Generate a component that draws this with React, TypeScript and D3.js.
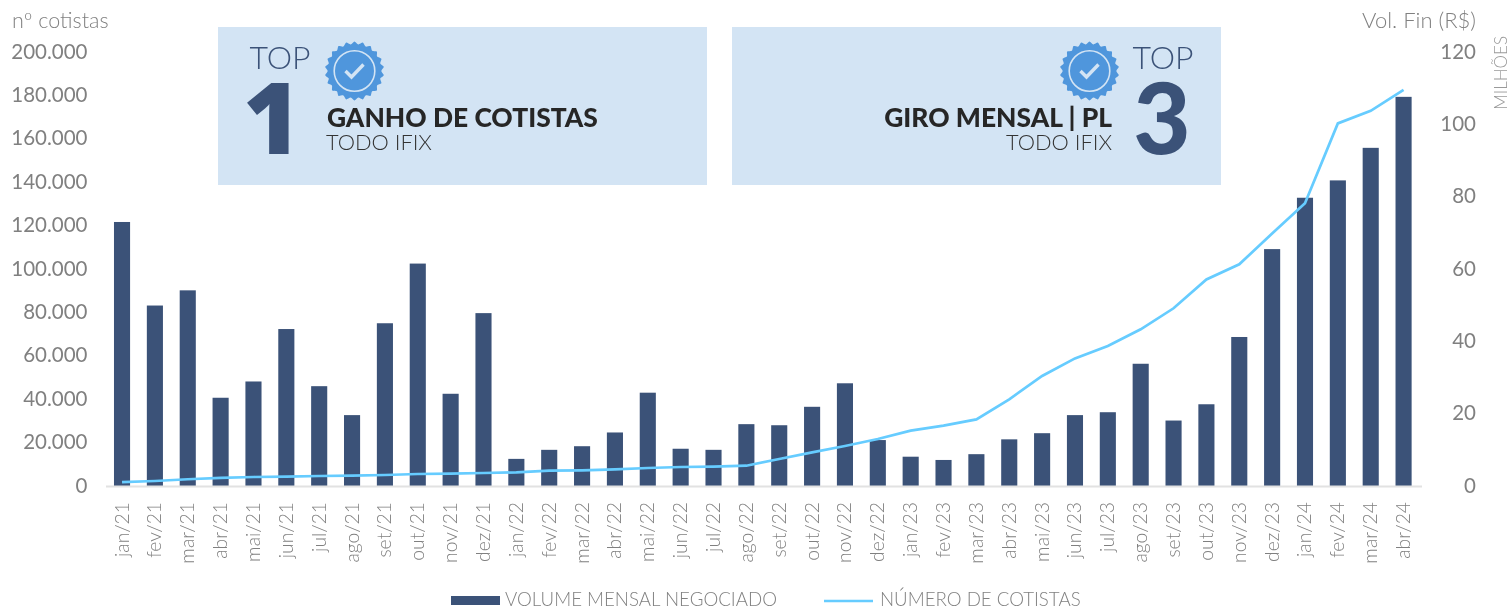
import React, { useEffect, useRef } from 'react';
import * as d3 from 'd3';

// dados
const months = ['jan/21','fev/21','mar/21','abr/21','mai/21','jun/21','jul/21','ago/21','set/21','out/21','nov/21','dez/21',
	'jan/22','fev/22','mar/22','abr/22','mai/22','jun/22','jul/22','ago/22','set/22','out/22','nov/22','dez/22',
	'jan/23','fev/23','mar/23','abr/23','mai/23','jun/23','jul/23','ago/23','set/23','out/23','nov/23','dez/23',
	'jan/24','fev/24','mar/24','abr/24'];
const volumeMillions = [73.0,49.9,54.1,24.4,28.9,43.4,27.6,19.6,45.0,61.5,25.5,47.8,
	7.5,10.0,11.0,14.8,25.8,10.3,10.0,17.1,16.8,21.9,28.4,12.7,
	8.1,7.2,8.8,12.9,14.6,19.6,20.4,33.8,18.1,22.6,41.2,65.5,
	79.7,84.5,93.5,107.6];
const holders = [1800,2300,3100,3700,4150,4300,4600,4750,5070,5530,5700,6000,
	6300,7050,7230,7700,8300,8750,8900,9350,12440,15500,18430,21650,
	25500,27800,30700,39950,50700,58800,64500,72200,81900,95200,102150,116400,
	130300,167100,172900,182500];
const leftTicks = [0,20000,40000,60000,80000,100000,120000,140000,160000,180000,200000];
const rightTicks = [0,20,40,60,80,100,120];

const WIDTH = 1510;
const HEIGHT = 607;
const NAVY = '#3b5278';
const SKY = '#66ccff';
const GREY = '#808080';
const FONT = 'Lato, sans-serif';
const ptBR = d3.formatLocale({ decimal: ',', thousands: '.', grouping: [3], currency: ['R$', ''] });

// selo azul com borda recortada
function drawBadge(g, cx, cy) {
	const teeth = 22;
	const pts = d3.range(teeth * 2).map(i => [(i * Math.PI) / teeth, i % 2 ? 26.8 : 29.6]);
	const shape = d3.lineRadial().curve(d3.curveCardinalClosed.tension(0.3));
	const b = g.append('g').attr('transform', `translate(${cx},${cy})`);
	b.append('path').attr('d', shape(pts)).attr('fill', '#4f96dc');
	b.append('circle').attr('r', 20.3).attr('fill', 'none').attr('stroke', '#d3e4f4').attr('stroke-width', 1.6);
	b.append('path').attr('d', d3.line()([[-9, 0], [-3, 6], [9, -6.5]]))
		.attr('fill', 'none').attr('stroke', '#d3e4f4').attr('stroke-width', 3.4);
}

function drawChart(svgEl) {
	const svg = d3.select(svgEl);
	svg.selectAll('*').remove();

	const x = d3.scaleBand().domain(months).range([105.6, 1420]).paddingInner(0.51).paddingOuter(0.255);
	const yLeft = d3.scaleLinear().domain([0, 200000]).range([486, 52]);
	const yRight = d3.scaleLinear().domain([0, 120]).range([486, 52]);

	// eixos
	const left = svg.append('g').attr('transform', 'translate(87.5,0)')
		.call(d3.axisLeft(yLeft).tickValues(leftTicks).tickSize(0).tickPadding(0).tickFormat(ptBR.format(',')));
	const right = svg.append('g').attr('transform', 'translate(1476,0)')
		.call(d3.axisLeft(yRight).tickValues(rightTicks).tickSize(0).tickPadding(0));
	[left, right].forEach(a => {
		a.select('.domain').remove();
		a.selectAll('text').attr('fill', GREY).style('font-family', FONT).style('font-size', '20.5px').attr('dy', '0.3em');
	});

	// barras
	svg.append('g').selectAll('rect').data(months).join('rect')
		.attr('x', d => x(d))
		.attr('width', x.bandwidth())
		.attr('y', (d, i) => yRight(volumeMillions[i]))
		.attr('height', (d, i) => yRight(0) - yRight(volumeMillions[i]))
		.attr('fill', NAVY);

	svg.append('line').attr('x1', 106).attr('x2', 1422).attr('y1', 486.5).attr('y2', 486.5)
		.attr('stroke', '#e2e2e2').attr('stroke-width', 2);

	// linha de cotistas
	const line = d3.line().x((d, i) => x(months[i]) + x.bandwidth() / 2).y(d => yLeft(d));
	svg.append('path').attr('d', line(holders)).attr('fill', 'none').attr('stroke', SKY).attr('stroke-width', 2.7);

	// meses
	svg.append('g').selectAll('text').data(months).join('text')
		.attr('transform', d => `translate(${x(d) + x.bandwidth() / 2 + 6.5},502) rotate(-90)`)
		.attr('text-anchor', 'end')
		.attr('fill', GREY)
		.style('font-family', FONT).style('font-size', '19.3px').style('font-weight', 300)
		.text(d => d);

	// títulos dos eixos
	const label = (t, px, py, size, anchor, transform) => svg.append('text')
		.attr('transform', transform || `translate(${px},${py})`)
		.attr('text-anchor', anchor).attr('fill', GREY)
		.style('font-family', FONT).style('font-size', `${size}px`).style('font-weight', 300).text(t);
	label('nº cotistas', 12, 28, 21.5, 'start');
	label('Vol. Fin (R$)', 1476, 28, 22, 'end');
	label('MILHÕES', 0, 0, 17, 'end', 'translate(1507,36) rotate(-90)').attr('fill', '#9a9a9a');

	// caixas TOP
	const panels = svg.append('g');
	[218, 732].forEach(px => panels.append('rect').attr('x', px).attr('y', 27).attr('width', 489).attr('height', 158).attr('fill', '#d3e4f4'));
	drawBadge(panels, 354.5, 71);
	drawBadge(panels, 1089.5, 71);

	const txt = (t, px, py, size, weight, fill, anchor, family = FONT) => panels.append('text')
		.attr('x', px).attr('y', py).attr('text-anchor', anchor).attr('fill', fill)
		.style('font-family', family).style('font-size', `${size}px`).style('font-weight', weight).text(t);
	txt('TOP', 280, 69, 32, 300, NAVY, 'middle');
	txt('1', 272, 154, 99, 800, NAVY, 'middle', '"Open Sans", sans-serif');
	txt('GANHO DE COTISTAS', 327, 127, 26.4, 900, '#262626', 'start');
	txt('TODO IFIX', 326, 150, 21.8, 300, '#333', 'start');
	txt('TOP', 1163, 69, 32, 300, NAVY, 'middle');
	txt('3', 1162, 154, 99, 900, NAVY, 'middle');
	txt('GIRO MENSAL | PL', 1112, 127, 26.4, 900, '#262626', 'end');
	txt('TODO IFIX', 1112, 150, 21.8, 300, '#333', 'end');

	// legenda
	const legend = svg.append('g');
	legend.append('rect').attr('x', 451).attr('y', 596).attr('width', 49).attr('height', 9).attr('fill', NAVY);
	legend.append('line').attr('x1', 824).attr('x2', 873).attr('y1', 601).attr('y2', 601).attr('stroke', SKY).attr('stroke-width', 2.7);
	[['VOLUME MENSAL NEGOCIADO', 505], ['NÚMERO DE COTISTAS', 880]].forEach(([t, px]) => {
		legend.append('text').attr('x', px).attr('y', 606).attr('fill', GREY)
			.style('font-family', FONT).style('font-size', '18.7px').style('font-weight', 300).text(t);
	});
}

export default function App() {
	const svgRef = useRef(null);

	useEffect(() => {
		drawChart(svgRef.current);
	}, []);

	return (
		<div style={{ position: 'absolute', left: 0, top: 0, width: WIDTH, height: HEIGHT, background: '#fff' }}>
			<svg ref={svgRef} width={WIDTH} height={HEIGHT} style={{ display: 'block', filter: 'blur(0.4px)' }}></svg>
		</div>
	);
}
